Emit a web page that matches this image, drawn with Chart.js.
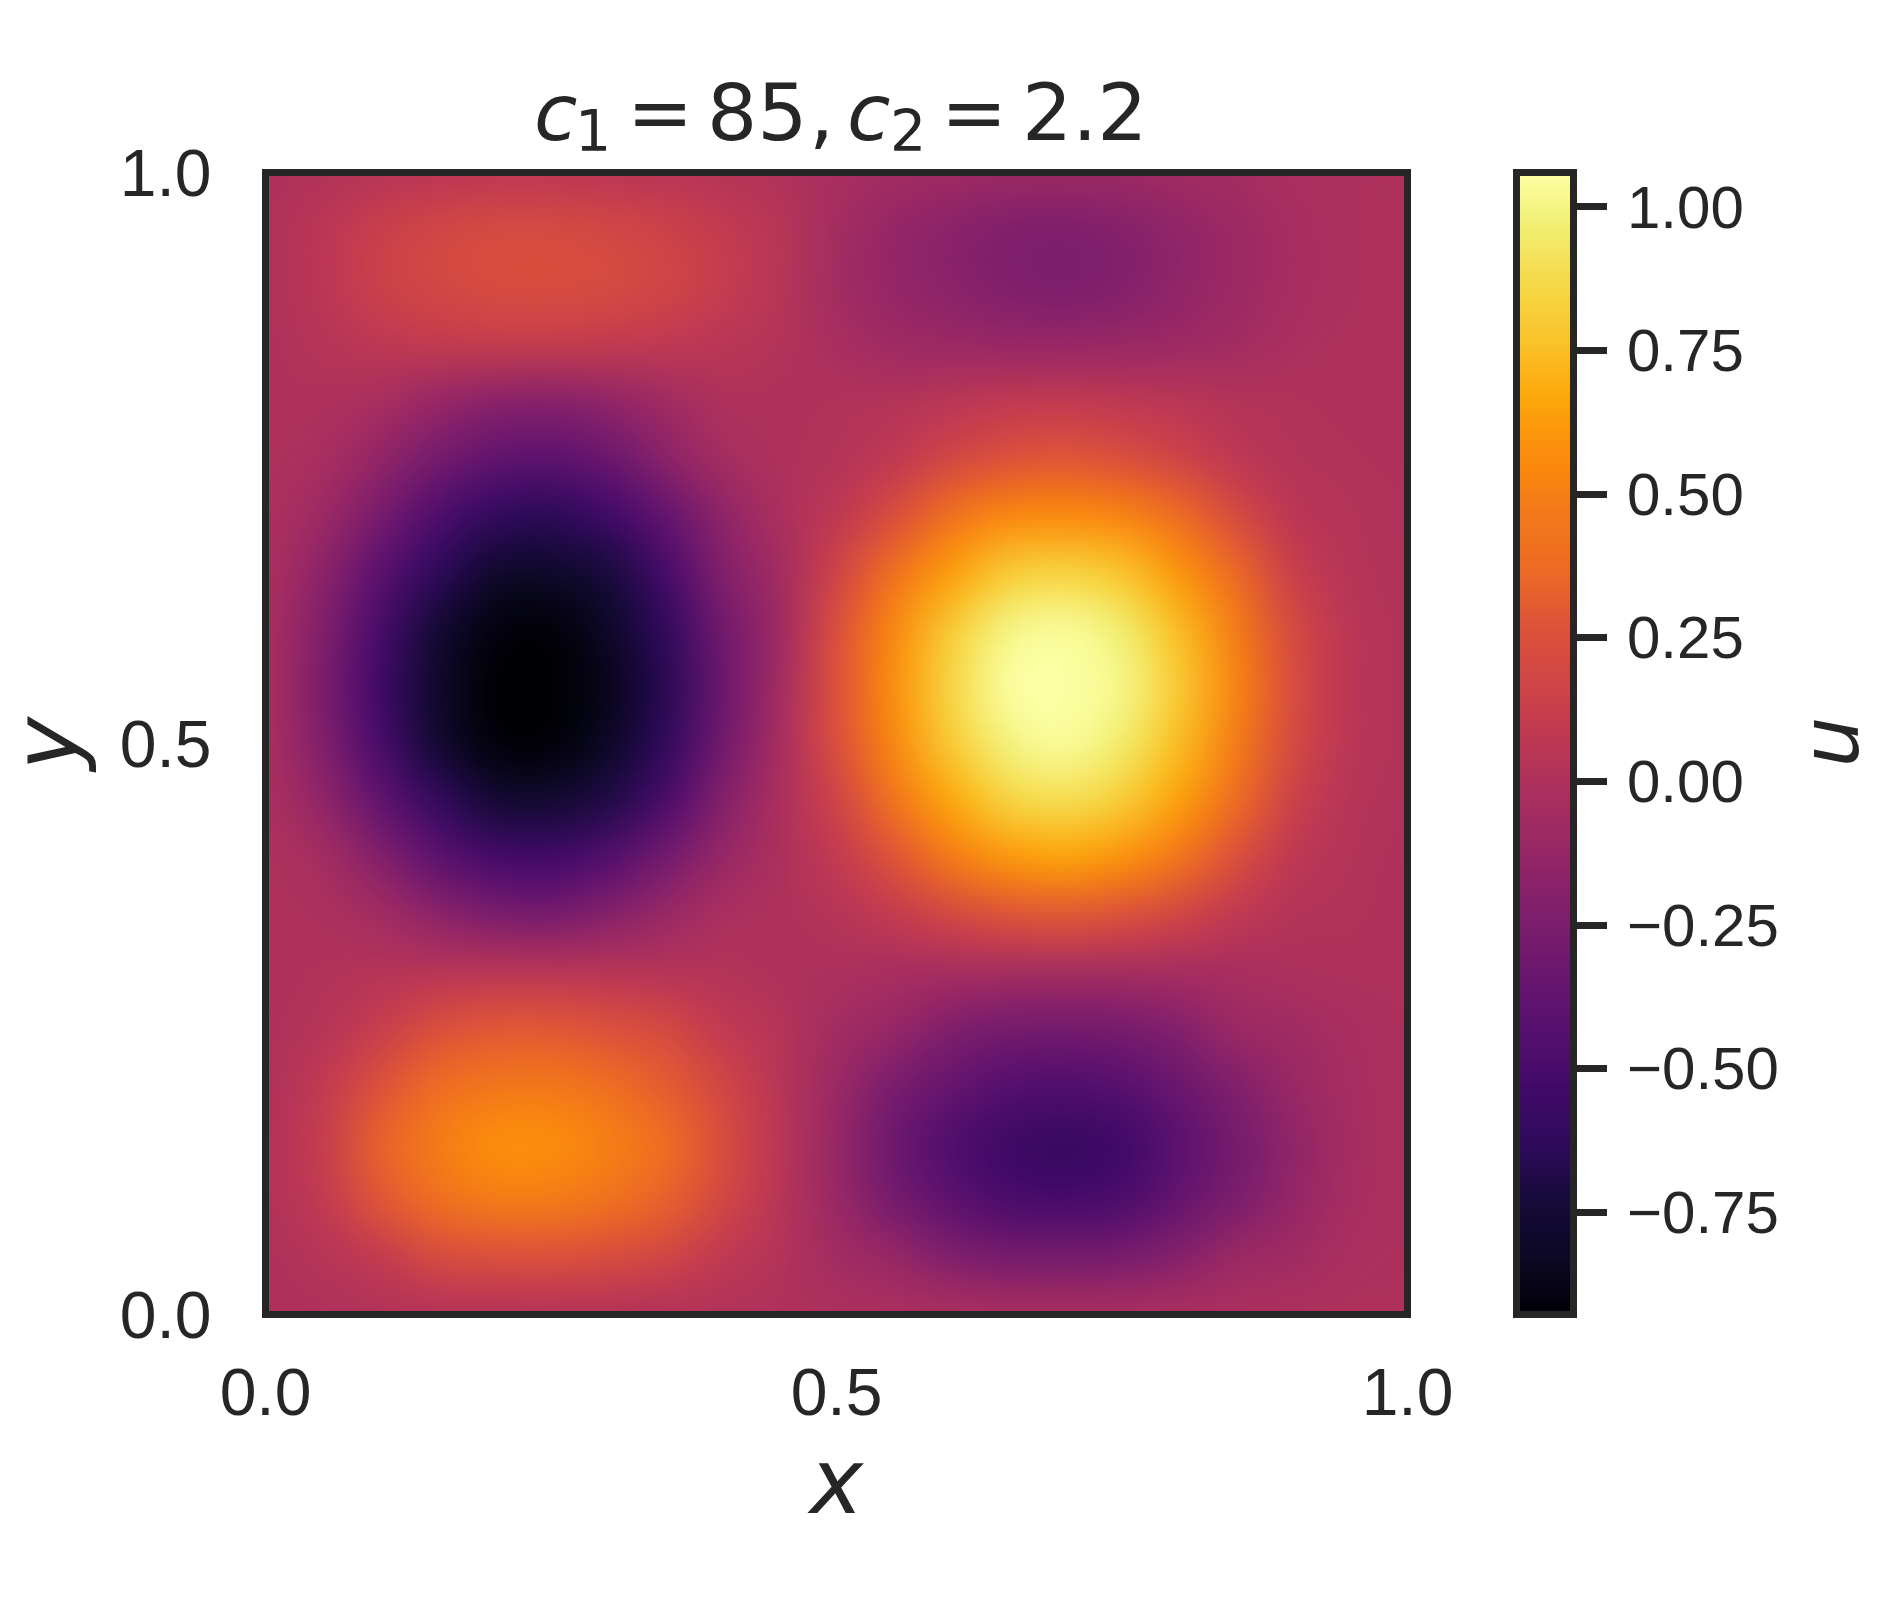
<!DOCTYPE html>
<html>
<head>
<meta charset="utf-8">
<title>u heatmap</title>
<script src="https://cdn.jsdelivr.net/npm/chart.js@4/dist/chart.umd.js"></script>
<style>
  html, body { margin: 0; padding: 0; background: #fff; }
  #page { position: relative; width: 1881px; height: 1600px; overflow: hidden; }
  canvas { position: absolute; top: 0; }
  #heat { left: 0; }
  #bar { left: 1440px; }
</style>
</head>
<body>
<div id="page">
  <canvas id="heat" width="1500" height="1600"></canvas>
  <canvas id="bar" width="441" height="1600"></canvas>
</div>
<script>
// grid the values were read on
const xValues = [0, .05, .1, .15, .2, .25, .3, .35, .4, .45, .5, .55, .6, .65, .7, .75, .8, .85, .9, .95, 1];
const yValues = [1, .95, .9, .85, .8, .75, .7, .65, .6, .55, .5, .45, .4, .35, .3, .25, .2, .15, .1, .05, 0];

// u(x, y), one row per yValues entry
const uRows = [
  [0, .01, .04, .06, .07, .07, .06, .05, .03, .01, -.03, -.06, -.08, -.1, -.1, -.1, -.07, -.05, -.02, -.01, 0],
  [0, .06, .13, .18, .21, .21, .19, .15, .1, .04, -.05, -.13, -.18, -.22, -.23, -.2, -.15, -.09, -.04, -.01, 0],
  [0, .06, .14, .19, .22, .23, .21, .17, .11, .04, -.06, -.13, -.18, -.22, -.24, -.21, -.15, -.09, -.04, -.01, 0],
  [0, .03, .07, .1, .11, .11, .1, .08, .05, .02, -.03, -.08, -.1, -.12, -.12, -.11, -.09, -.06, -.02, 0, 0],
  [0, 0, -.03, -.12, -.18, -.19, -.15, -.07, 0, 0, .01, .02, .05, .08, .09, .07, .05, .02, .01, 0, 0],
  [0, -.03, -.14, -.28, -.38, -.4, -.33, -.18, -.05, 0, .02, .08, .18, .26, .28, .24, .16, .07, .02, .01, 0],
  [-.01, -.09, -.27, -.47, -.61, -.64, -.54, -.37, -.16, -.02, .07, .23, .41, .54, .56, .52, .38, .21, .06, .02, .01],
  [-.02, -.17, -.41, -.63, -.79, -.81, -.72, -.51, -.22, -.06, .16, .41, .63, .8, .84, .77, .6, .36, .13, .03, .01],
  [-.03, -.22, -.5, -.75, -.9, -.92, -.82, -.62, -.3, -.08, .24, .54, .8, 1, 1.04, .96, .74, .48, .2, .05, .01],
  [-.03, -.25, -.54, -.79, -.93, -.95, -.86, -.65, -.33, -.06, .26, .58, .85, 1.05, 1.09, 1.01, .79, .52, .22, .05, .01],
  [-.03, -.22, -.5, -.76, -.91, -.92, -.83, -.62, -.3, -.04, .24, .54, .8, .99, 1.04, .95, .74, .48, .2, .05, .01],
  [-.02, -.15, -.38, -.6, -.75, -.77, -.69, -.49, -.21, -.02, .16, .43, .67, .84, .89, .81, .64, .38, .14, .03, .01],
  [0, -.05, -.21, -.4, -.51, -.53, -.45, -.29, -.12, -.01, .09, .27, .47, .61, .65, .59, .44, .24, .07, .02, 0],
  [0, -.01, -.06, -.17, -.25, -.27, -.2, -.11, -.02, 0, .03, .1, .19, .27, .29, .26, .17, .08, .02, .01, 0],
  [0, .01, .03, .04, .05, .05, .04, .03, .02, 0, -.01, -.03, -.04, -.05, -.05, -.05, -.04, -.03, -.01, 0, 0],
  [0, .03, .12, .24, .29, .29, .26, .2, .09, .03, -.06, -.12, -.23, -.28, -.29, -.27, -.21, -.1, -.07, -.03, -.01],
  [0, .09, .26, .38, .45, .46, .4, .31, .18, .04, -.1, -.26, -.36, -.44, -.46, -.43, -.33, -.22, -.11, -.04, -.01],
  [.01, .11, .33, .48, .57, .57, .5, .39, .23, .05, -.12, -.32, -.46, -.55, -.59, -.54, -.41, -.28, -.15, -.05, -.01],
  [.01, .09, .28, .4, .48, .48, .42, .33, .19, .04, -.11, -.28, -.4, -.49, -.51, -.48, -.36, -.25, -.13, -.04, -.01],
  [0, .03, .1, .21, .24, .25, .22, .17, .08, .02, -.06, -.12, -.22, -.27, -.28, -.26, -.2, -.1, -.07, -.02, -.01],
  [0, 0, .01, .02, .02, .02, .02, .01, .01, 0, -.01, -.02, -.02, -.03, -.03, -.03, -.02, -.02, -.01, 0, 0]
];

const axisTicks = [0, 0.5, 1];
const colorbarTicks = [-0.75, -0.5, -0.25, 0, 0.25, 0.5, 0.75, 1];
const uMin = -0.928;
const uMax = 1.06;

// inferno
const inferno = ['#000004', '#0c0826', '#160b39', '#2f0a5b', '#420a68', '#57106e', '#6a176e', '#7f1e6c', '#932667',
  '#a82e5f', '#bc3754', '#cf4446', '#dd513a', '#ed6925', '#f37819', '#fb8b0c', '#fca50a', '#fac228', '#f6d746', '#f1ed6f', '#fcffa4'];

const INK = '#262626';
const SPINE = 7;

function rgb(hex) {
  return [1, 3, 5].map(i => parseInt(hex.slice(i, i + 2), 16));
}

function colorFor(v) {
  const t = Math.min(1, Math.max(0, (v - uMin) / (uMax - uMin))) * (inferno.length - 1);
  const i = Math.min(inferno.length - 2, Math.floor(t));
  const a = rgb(inferno[i]), b = rgb(inferno[i + 1]);
  return a.map((c, k) => Math.round(c + (b[k] - c) * (t - i)));
}

const heatCells = [];
yValues.forEach((y, r) => xValues.forEach((x, c) => heatCells.push({ x: x, y: y, v: uRows[r][c] })));

// paints the cells smoothed, like the shaded mesh in the original
const heatLayer = {
  id: 'heatLayer',
  beforeDatasetsDraw(chart) {
    const { ctx, chartArea, scales } = chart;
    const nx = xValues.length, ny = yValues.length;
    const off = document.createElement('canvas');
    off.width = nx;
    off.height = ny;
    const octx = off.getContext('2d');
    const img = octx.createImageData(nx, ny);
    chart.data.datasets[0].data.forEach((cell, i) => {
      const col = colorFor(cell.v);
      img.data.set([col[0], col[1], col[2], 255], i * 4);
    });
    octx.putImageData(img, 0, 0);
    const dx = (scales.x.getPixelForValue(1) - scales.x.getPixelForValue(0)) / (nx - 1);
    const dy = (scales.y.getPixelForValue(0) - scales.y.getPixelForValue(1)) / (ny - 1);
    ctx.save();
    ctx.beginPath();
    ctx.rect(chartArea.left, chartArea.top, chartArea.width, chartArea.height);
    ctx.clip();
    ctx.imageSmoothingEnabled = true;
    ctx.imageSmoothingQuality = 'high';
    ctx.drawImage(off, scales.x.getPixelForValue(0) - dx / 2, scales.y.getPixelForValue(1) - dy / 2, dx * nx, dy * ny);
    ctx.restore();
  }
};

const frame = {
  id: 'frame',
  afterDatasetsDraw(chart) {
    const { ctx, chartArea } = chart;
    ctx.save();
    ctx.strokeStyle = INK;
    ctx.lineWidth = SPINE;
    ctx.strokeRect(chartArea.left, chartArea.top, chartArea.width, chartArea.height);
    ctx.restore();
  }
};

// canvas "middle" sits a bit high for these digits, push the y labels down onto the tick
const nudgeLabels = {
  id: 'nudgeLabels',
  beforeDraw(chart, args, opts) {
    chart.scales.y.getLabelItems().forEach(item => { item.options.translation[1] += opts.dy; });
  }
};

// mathtext title: c_1 = 85, c_2 = 2.2
const titlePieces = [
  ['c', 534, 140, 'italic 79px "DejaVu Sans"'],
  ['1', 575, 151, '57px "DejaVu Sans"'],
  ['=', 627, 140, '79px "DejaVu Sans"'],
  ['85', 707, 140, '79px "DejaVu Sans"'],
  [',', 809, 140, '79px "DejaVu Sans"'],
  ['c', 847, 140, 'italic 79px "DejaVu Sans"'],
  ['2', 890, 151, '57px "DejaVu Sans"'],
  ['=', 941, 140, '79px "DejaVu Sans"'],
  ['2.2', 1022, 140, '79px "DejaVu Sans"']
];
const mathTitle = {
  id: 'mathTitle',
  afterDraw(chart) {
    const ctx = chart.ctx;
    ctx.save();
    ctx.fillStyle = INK;
    ctx.textBaseline = 'alphabetic';
    ctx.textAlign = 'left';
    titlePieces.forEach(p => {
      ctx.font = p[3];
      ctx.fillText(p[0], p[1], p[2]);
    });
    ctx.restore();
  }
};

const barLabel = {
  id: 'barLabel',
  afterDraw(chart) {
    const ctx = chart.ctx;
    ctx.save();
    ctx.fillStyle = INK;
    ctx.font = 'italic 80px "DejaVu Sans"';
    ctx.textAlign = 'center';
    ctx.textBaseline = 'alphabetic';
    ctx.translate(1858 - 1440, 742);
    ctx.rotate(-Math.PI / 2);
    ctx.fillText('u', 0, 0);
    ctx.restore();
  }
};

new Chart(document.getElementById('heat'), {
  type: 'scatter',
  data: { datasets: [{ label: 'u', data: heatCells, pointRadius: 0, pointHoverRadius: 0 }] },
  plugins: [nudgeLabels, heatLayer, frame, mathTitle],
  options: {
    responsive: false,
    animation: false,
    devicePixelRatio: 1,
    layout: { autoPadding: false, padding: { top: 172.5, right: 92.5, left: 0, bottom: 0 } },
    plugins: { legend: { display: false }, tooltip: { enabled: false }, nudgeLabels: { dy: 5 } },
    scales: {
      x: {
        type: 'linear', min: 0, max: 1,
        afterBuildTicks(scale) { scale.ticks = axisTicks.map(v => ({ value: v })); },
        afterFit(scale) { scale.height = 285.5; },
        grid: { display: false, drawTicks: false },
        border: { display: false },
        ticks: { color: INK, font: { family: '"Liberation Sans"', size: 66 }, padding: 43, maxRotation: 0, autoSkip: false, callback: v => v.toFixed(1) },
        title: { display: true, text: 'x', color: INK, font: { family: '"DejaVu Sans"', size: 90, style: 'italic' }, padding: { top: 0, bottom: 56 } }
      },
      y: {
        type: 'linear', min: 0, max: 1,
        afterBuildTicks(scale) { scale.ticks = axisTicks.map(v => ({ value: v })); },
        afterFit(scale) { scale.width = 265.5; },
        grid: { display: false, drawTicks: false },
        border: { display: false },
        ticks: { color: INK, font: { family: '"Liberation Sans"', size: 66 }, padding: 54, autoSkip: false, callback: v => v.toFixed(1) },
        title: { display: true, text: 'y', color: INK, font: { family: '"DejaVu Sans"', size: 90, style: 'italic' }, padding: { top: 0, bottom: 0 } }
      }
    }
  }
});

new Chart(document.getElementById('bar'), {
  type: 'bar',
  data: {
    labels: ['u'],
    datasets: [{
      data: [[uMin, uMax]],
      barPercentage: 1,
      categoryPercentage: 1,
      backgroundColor(context) {
        const { chart } = context;
        if (!chart.chartArea) return inferno[0];
        const y = chart.scales.y;
        const g = chart.ctx.createLinearGradient(0, y.getPixelForValue(uMin), 0, y.getPixelForValue(uMax));
        inferno.forEach((c, i) => g.addColorStop(i / (inferno.length - 1), c));
        return g;
      }
    }]
  },
  plugins: [nudgeLabels, frame, barLabel],
  options: {
    responsive: false,
    animation: false,
    devicePixelRatio: 1,
    layout: { autoPadding: false, padding: { top: 172.5, bottom: 285.5, left: 76.5, right: 0 } },
    plugins: { legend: { display: false }, tooltip: { enabled: false }, nudgeLabels: { dy: 4 } },
    scales: {
      x: { display: false },
      y: {
        position: 'right', min: uMin, max: uMax,
        afterBuildTicks(scale) { scale.ticks = colorbarTicks.map(v => ({ value: v })); },
        afterFit(scale) { scale.width = 307.5; },
        grid: { drawOnChartArea: false, drawTicks: true, tickLength: 33.5, tickWidth: SPINE, tickColor: INK },
        border: { display: false },
        ticks: { color: INK, font: { family: '"Liberation Sans"', size: 60 }, padding: 20, autoSkip: false,
          callback: v => v.toFixed(2).replace('-', '\u2212') }
      }
    }
  }
});
</script>
</body>
</html>
